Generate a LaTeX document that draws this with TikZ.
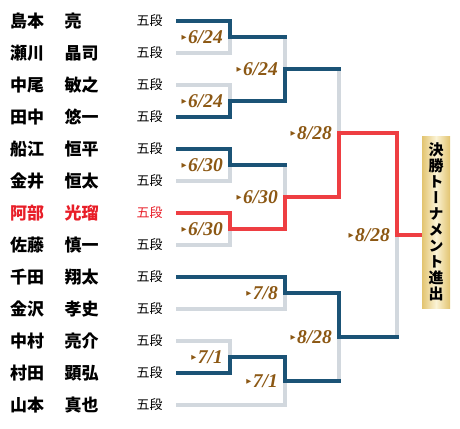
\documentclass[tikz,border=0pt]{standalone}
\usepackage{fontspec}
\usepackage{tikz}
\usetikzlibrary{positioning}
\newfontfamily\jpfont{Noto Sans CJK JP}
\newfontfamily\jpvfont{Noto Sans CJK JP}[RawFeature=+vert]
\newfontfamily\datefont{Liberation Serif}
\newfontfamily\markfont{DejaVu Sans}
\definecolor{losegrey}{RGB}{210,216,222}
\definecolor{windark}{RGB}{27,83,118}
\definecolor{abered}{RGB}{238,62,66}
\definecolor{namered}{RGB}{232,30,40}
\definecolor{datebrown}{RGB}{140,88,20}
\definecolor{goldedge}{RGB}{226,196,112}
\definecolor{goldmid}{RGB}{251,243,214}
\newcommand{\arr}{\raisebox{3.5pt}{\markfont\fontsize{6.5}{6.5}\selectfont ▶}\hspace{1.5pt}}
\tikzset{
  player/.style={inner sep=0pt,anchor=west,font=\jpfont\bfseries\fontsize{17}{17}\selectfont},
  rank/.style={inner sep=0pt,font=\jpfont\fontsize{13}{13}\selectfont},
  datelabel/.style={inner sep=1pt,text=datebrown,font=\datefont\bfseries\itshape\fontsize{19.5}{19.5}\selectfont},
  lose/.style={line width=4pt,draw=losegrey,line cap=rect},
  win/.style={line width=4pt,draw=windark,line cap=rect},
  adv/.style={line width=4pt,draw=abered,line cap=rect},
}
\begin{document}
\begin{tikzpicture}[x=1pt,y=-1pt]
		\useasboundingbox (0,0) rectangle (460,428);
		
		\node[player] (n1) at (10,21) {島本};
		\node[player,right=20pt of n1] (g1) {亮};
		\node[rank,anchor=west,right=92pt of n1] (d1) {五段};
		
		\node[player] (n2) at (10,53) {瀬川};
		\node[player,right=20pt of n2] (g2) {晶司};
		\node[rank,anchor=west,right=92pt of n2] (d2) {五段};
		
		\node[player] (n3) at (10,85) {中尾};
		\node[player,right=20pt of n3] (g3) {敏之};
		\node[rank,anchor=west,right=92pt of n3] (d3) {五段};
		
		\node[player] (n4) at (10,117) {田中};
		\node[player,right=20pt of n4] (g4) {悠一};
		\node[rank,anchor=west,right=92pt of n4] (d4) {五段};
		
		\node[player] (n5) at (10,149) {船江};
		\node[player,right=20pt of n5] (g5) {恒平};
		\node[rank,anchor=west,right=92pt of n5] (d5) {五段};
		
		\node[player] (n6) at (10,181) {金井};
		\node[player,right=20pt of n6] (g6) {恒太};
		\node[rank,anchor=west,right=92pt of n6] (d6) {五段};
		
		\node[player,text=namered] (n7) at (10,213) {阿部};
		\node[player,text=namered,right=20pt of n7] (g7) {光瑠};
		\node[rank,text=namered,anchor=west,right=92pt of n7] (d7) {五段};
		
		\node[player] (n8) at (10,245) {佐藤};
		\node[player,right=20pt of n8] (g8) {慎一};
		\node[rank,anchor=west,right=92pt of n8] (d8) {五段};
		
		\node[player] (n9) at (10,277) {千田};
		\node[player,right=20pt of n9] (g9) {翔太};
		\node[rank,anchor=west,right=92pt of n9] (d9) {五段};
		
		\node[player] (n10) at (10,309) {金沢};
		\node[player,right=20pt of n10] (g10) {孝史};
		\node[rank,anchor=west,right=92pt of n10] (d10) {五段};
		
		\node[player] (n11) at (10,341) {中村};
		\node[player,right=20pt of n11] (g11) {亮介};
		\node[rank,anchor=west,right=92pt of n11] (d11) {五段};
		
		\node[player] (n12) at (10,373) {村田};
		\node[player,right=20pt of n12] (g12) {顕弘};
		\node[rank,anchor=west,right=92pt of n12] (d12) {五段};
		
		\node[player] (n13) at (10,405) {山本};
		\node[player,right=20pt of n13] (g13) {真也};
		\node[rank,anchor=west,right=92pt of n13] (d13) {五段};
		
		\coordinate (s1) at (178,21);
		\coordinate (s2) at (178,53);
		\coordinate (s3) at (178,85);
		\coordinate (s4) at (178,117);
		\coordinate (s5) at (178,149);
		\coordinate (s6) at (178,181);
		\coordinate (s7) at (178,213);
		\coordinate (s8) at (178,245);
		\coordinate (s9) at (178,277);
		\coordinate (s10) at (178,309);
		\coordinate (s11) at (178,341);
		\coordinate (s12) at (178,373);
		\coordinate (s13) at (178,405);
		
		\coordinate (a1) at (230,37);
		\coordinate (a2) at (230,101);
		\coordinate (a3) at (230,165);
		\coordinate (a4) at (230,229);
		\coordinate (a6) at (230,357);
		\coordinate (b1) at (285,69);
		\coordinate (b2) at (285,197);
		\coordinate (b3) at (285,293);
		\coordinate (b4) at (285,381);
		\coordinate (c1) at (339,133);
		\coordinate (c2) at (339,337);
		\coordinate (f) at (397,235);
		
		\node[minimum width=28pt,minimum height=172pt,inner sep=0pt,left color=goldedge,right color=goldedge,middle color=goldmid,align=center,font=\jpvfont\bfseries\fontsize{15}{16}\selectfont] (final) at (436,222) {決\\勝\\ト\\ー\\ナ\\メ\\ン\\ト\\進\\出};
		
		\draw[lose] (s2) -| (a1);
		\draw[lose] (s3) -| (a2);
		\draw[lose] (s6) -| (a3);
		\draw[lose] (s8) -| (a4);
		\draw[lose] (s10) -| (b3);
		\draw[lose] (s11) -| (a6);
		\draw[lose] (s13) -| (b4);
		\draw[lose] (a1 -| b1) -- (b1);
		\draw[lose] (a3 -| b2) -- (b2);
		\draw[lose] (b1 -| c1) -- (c1);
		\draw[lose] (b4 -| c2) -- (c2);
		\draw[lose] (c2 -| f) -- (f);
		
		\draw[win] (s1) -| (a1);
		\draw[win] (s4) -| (a2);
		\draw[win] (s5) -| (a3);
		\draw[win] (s9) -| (b3);
		\draw[win] (s12) -| (a6);
		\draw[win] (a1) -- (a1 -| b1);
		\draw[win] (a2) -| (b1);
		\draw[win] (a3) -- (a3 -| b2);
		\draw[win] (a6) -| (b4);
		\draw[win] (b1) -- (b1 -| c1);
		\draw[win] (b3) -| (c2);
		\draw[win] (b4) -- (b4 -| c2);
		\draw[win] (c2) -- (c2 -| f);
		
		\draw[adv,shorten >=2pt] (s7) -| (a4) -| (b2) -| (c1) -| (f) -- (f -| final.west);
		
		\node[datelabel,left=6pt of a1] (la1) {\arr6/24};
		\node[datelabel,left=6pt of a2] (la2) {\arr6/24};
		\node[datelabel,left=6pt of a3] (la3) {\arr6/30};
		\node[datelabel,left=6pt of a4] (la4) {\arr6/30};
		\node[datelabel,left=6pt of a6] (la6) {\arr7/1};
		\node[datelabel,left=6pt of b1] (lb1) {\arr6/24};
		\node[datelabel,left=6pt of b2] (lb2) {\arr6/30};
		\node[datelabel,left=6pt of b3] (lb3) {\arr7/8};
		\node[datelabel,left=6pt of b4] (lb4) {\arr7/1};
		\node[datelabel,left=6pt of c1] (lc1) {\arr8/28};
		\node[datelabel,left=6pt of c2] (lc2) {\arr8/28};
		\node[datelabel,left=6pt of f] (lf) {\arr8/28};
	\end{tikzpicture}
\end{document}
